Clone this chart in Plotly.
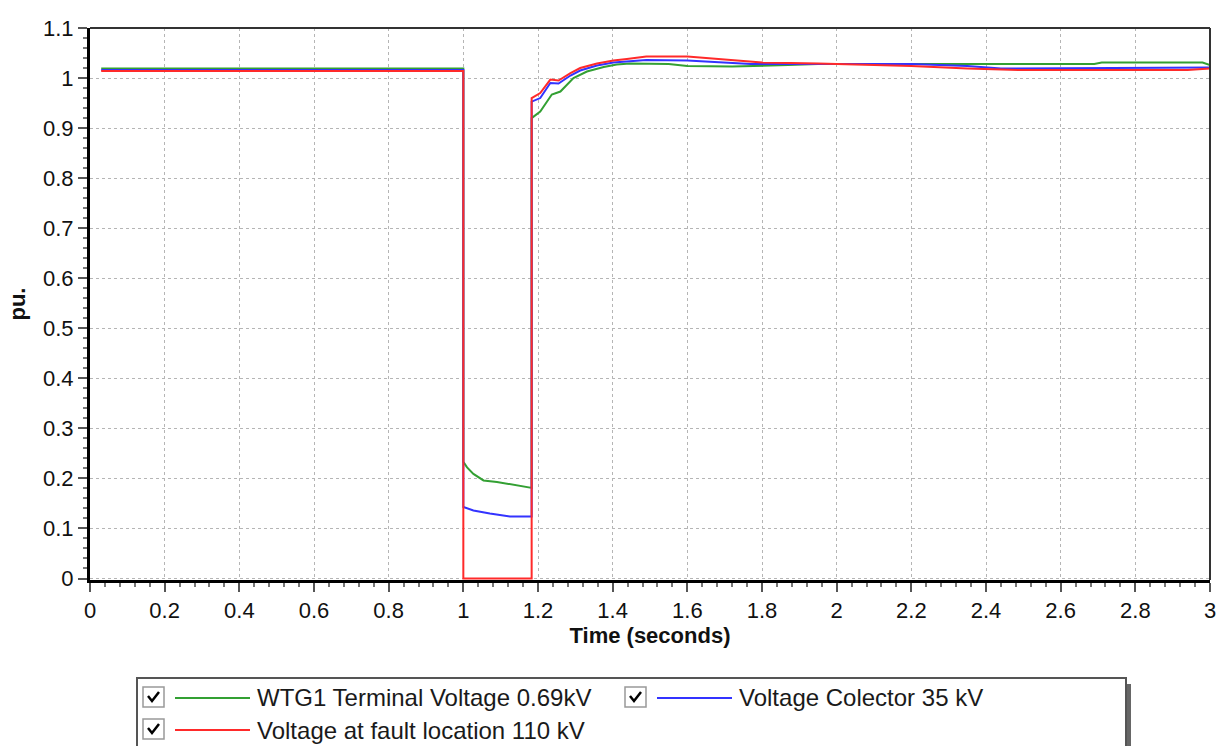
import plotly.graph_objects as go

# ---------------- data ----------------
t_green = [0.03, 1.0, 1.0, 1.01, 1.027, 1.054, 1.09, 1.134, 1.183, 1.183, 1.206, 1.237, 1.26, 1.295,
           1.331, 1.376, 1.411, 1.446, 1.55, 1.60, 1.72, 1.87, 1.95, 2.20, 2.69, 2.71, 2.98, 3.0]
v_green = [1.019, 1.019, 0.233, 0.222, 0.209, 0.196, 0.193, 0.187, 0.181, 0.920, 0.933, 0.967, 0.973, 1.000,
           1.013, 1.022, 1.027, 1.029, 1.028, 1.024, 1.023, 1.026, 1.028, 1.028, 1.028, 1.031, 1.031, 1.026]

t_blue = [0.03, 1.0, 1.0, 1.027, 1.071, 1.125, 1.183, 1.183, 1.206, 1.233, 1.255, 1.287, 1.313, 1.358,
          1.402, 1.438, 1.49, 1.60, 1.77, 1.95, 2.20, 2.35, 2.44, 3.0]
v_blue = [1.016, 1.016, 0.143, 0.136, 0.130, 0.124, 0.124, 0.953, 0.960, 0.990, 0.989, 1.005, 1.015, 1.025,
          1.031, 1.033, 1.036, 1.035, 1.028, 1.028, 1.028, 1.024, 1.019, 1.021]

t_red = [0.03, 1.0, 1.0, 1.183, 1.183, 1.206, 1.233, 1.255, 1.287, 1.313, 1.358, 1.402, 1.438, 1.49,
         1.60, 1.69, 1.80, 1.95, 2.00, 2.20, 2.35, 2.49, 2.94, 3.0]
v_red = [1.014, 1.014, 0.0, 0.0, 0.960, 0.970, 0.997, 0.995, 1.010, 1.020, 1.029, 1.035, 1.038, 1.043,
         1.043, 1.037, 1.031, 1.029, 1.028, 1.024, 1.019, 1.016, 1.016, 1.019]

names = ["WTG1 Terminal Voltage 0.69kV", "Voltage Colector 35 kV", "Voltage at fault location 110 kV"]
colors = ["#33a033", "#3333ff", "#ff2a2a"]

# ---------------- layout helpers ----------------
W, H = 1221, 746
L, R, T, B = 90, 11, 28, 166
PW, PH = W - L - R, H - T - B


def px(x):
    return (x - L) / PW


def py(y):
    return (H - B - y) / PH


fig = go.Figure()
for t, v, n, c in [(t_green, v_green, names[0], colors[0]),
                   (t_blue, v_blue, names[1], colors[1]),
                   (t_red, v_red, names[2], colors[2])]:
    fig.add_trace(go.Scatter(x=t, y=v, mode="lines", name=n, showlegend=False, cliponaxis=False,
                             line=dict(color=c, width=2)))

tickfont = dict(family="Liberation Sans, Arial, sans-serif", size=22, color="#111111")
titlefont = dict(family="Liberation Sans, Arial, sans-serif", size=22, color="#111111")

fig.update_xaxes(range=[0, 3], dtick=0.2, tick0=0, showgrid=True, gridcolor="#b5b5b5", griddash="dot",
                 gridwidth=1, zeroline=False, showline=True, linecolor="black", linewidth=3,
                 layer="below traces",
                 ticks="outside", ticklen=9, tickwidth=1.5, tickcolor="#555",
                 minor=dict(dtick=0.04, ticks="outside", ticklen=4, tickcolor="#777", showgrid=False),
                 tickfont=tickfont,
                 title=dict(text="<b>Time (seconds)</b>", font=titlefont, standoff=6))
fig.update_yaxes(range=[-0.003, 1.1], dtick=0.1, tick0=0, showgrid=True, gridcolor="#b5b5b5", griddash="dot",
                 gridwidth=1, zeroline=False, showline=True, linecolor="black", linewidth=3,
                 layer="below traces",
                 ticks="outside", ticklen=9, tickwidth=1.5, tickcolor="#555",
                 minor=dict(dtick=0.02, ticks="outside", ticklen=4, tickcolor="#777", showgrid=False),
                 tickfont=tickfont,
                 title=dict(text="<b>pu.</b>", font=titlefont, standoff=12))

shapes = []
# top / right frame
shapes.append(dict(type="line", xref="paper", yref="paper", x0=0, x1=1, y0=1, y1=1,
                   line=dict(color="#333", width=2)))
shapes.append(dict(type="line", xref="paper", yref="paper", x0=1, x1=1, y0=0, y1=1,
                   line=dict(color="#333", width=2)))

# legend box with shadow
shapes.append(dict(type="rect", xref="paper", yref="paper", x0=px(1126), x1=px(1131), y0=py(684), y1=py(770),
                   line=dict(width=0), fillcolor="#666"))
shapes.append(dict(type="rect", xref="paper", yref="paper", x0=px(137), x1=px(1126), y0=py(678), y1=py(770),
                   line=dict(color="#555", width=2), fillcolor="white"))


def checkbox(x0, y0):
    out = [dict(type="rect", xref="paper", yref="paper", x0=px(x0), x1=px(x0 + 21), y0=py(y0), y1=py(y0 + 20),
                line=dict(color="#999", width=1.5), fillcolor="white")]
    path = "M {},{} L {},{} L {},{}".format(px(x0 + 5), py(y0 + 9), px(x0 + 9), py(y0 + 14),
                                           px(x0 + 16), py(y0 + 5))
    out.append(dict(type="path", xref="paper", yref="paper", path=path, line=dict(color="black", width=2.5)))
    return out


shapes += checkbox(143, 687)
shapes += checkbox(625, 687)
shapes += checkbox(143, 719)


def legline(x0, x1, y, c):
    return dict(type="line", xref="paper", yref="paper", x0=px(x0), x1=px(x1), y0=py(y), y1=py(y),
                line=dict(color=c, width=2))


shapes.append(legline(175, 250, 698, colors[0]))
shapes.append(legline(657, 732, 698, colors[1]))
shapes.append(legline(175, 250, 730, colors[2]))

legfont = dict(family="Liberation Sans, Arial, sans-serif", size=24, color="#1a1a1a")
annotations = [
    dict(text=names[0], x=px(255), y=py(697), xref="paper", yref="paper", xanchor="left", yanchor="middle",
         showarrow=False, font=legfont),
    dict(text=names[1], x=px(737), y=py(697), xref="paper", yref="paper", xanchor="left", yanchor="middle",
         showarrow=False, font=legfont),
    dict(text=names[2], x=px(255), y=py(730), xref="paper", yref="paper", xanchor="left", yanchor="middle",
         showarrow=False, font=legfont),
]

fig.update_layout(width=W, height=H, margin=dict(l=L, r=R, t=T, b=B, autoexpand=False),
                  plot_bgcolor="white", paper_bgcolor="white", showlegend=False,
                  shapes=shapes, annotations=annotations)

fig.write_html("out.html")
